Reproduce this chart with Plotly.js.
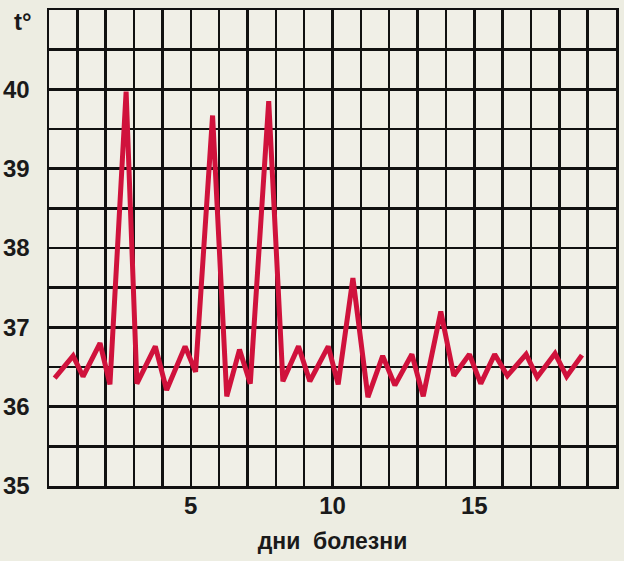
<!DOCTYPE html>
<html>
<head>
<meta charset="utf-8">
<script src="https://cdn.plot.ly/plotly-3.0.1.min.js"></script>
<style>
  html, body { margin: 0; padding: 0; background: #edede2; }
  #chart { width: 624px; height: 561px; }
</style>
</head>
<body>
<div id="chart"></div>
<script>
// Measurement times (days of illness, morning / evening)
const dayTimes = [0.2, 0.85, 1.2, 1.8, 2.15, 2.72, 3.1, 3.75, 4.15, 4.8,
  5.17, 5.77, 6.27, 6.72, 7.1, 7.75, 8.25, 8.8, 9.2, 9.85,
  10.2, 10.72, 11.25, 11.77, 12.2, 12.8, 13.2, 13.82, 14.28, 14.83,
  15.23, 15.72, 16.17, 16.83, 17.22, 17.85, 18.26, 18.8];
// Body temperature, °C
const temperatures = [36.36, 36.64, 36.38, 36.80, 36.28, 39.97, 36.29, 36.76, 36.21, 36.76,
  36.44, 39.67, 36.13, 36.72, 36.29, 39.85, 36.32, 36.76, 36.32, 36.76,
  36.28, 37.62, 36.12, 36.64, 36.27, 36.66, 36.13, 37.20, 36.39, 36.66,
  36.29, 36.66, 36.39, 36.66, 36.37, 36.67, 36.38, 36.65];

const xLabeled = [5, 10, 15];
const yLabeled = [35, 36, 37, 38, 39, 40];
const xTitle = 'дни\u00a0\u00a0болезни';
const yUnit = 't°';

const xRange = [0, 20];
const yRange = [35, 41];

const xTickVals = [], xTickText = [];
for (let v = xRange[0]; v <= xRange[1]; v += 1) {
  xTickVals.push(v);
  xTickText.push(xLabeled.includes(v) ? String(v) : '');
}
const yTickVals = [], yTickText = [];
for (let v = yRange[0]; v <= yRange[1] + 1e-9; v += 0.5) {
  yTickVals.push(v);
  yTickText.push(yLabeled.includes(v) ? String(v) : '');
}

const font = { family: 'Liberation Sans, Arial, sans-serif', size: 24, weight: 'bold', color: '#1a1a1a' };

const trace = {
  x: dayTimes,
  y: temperatures,
  type: 'scatter',
  mode: 'lines',
  line: { color: '#d0123c', width: 5 },
  hoverinfo: 'skip'
};

const axisCommon = {
  showgrid: true,
  gridcolor: '#111111',
  gridwidth: 2.5,
  zeroline: false,
  showline: true,
  linecolor: '#111111',
  linewidth: 2.5,
  mirror: true,
  ticks: '',
  tickfont: font,
  fixedrange: true
};

const layout = {
  width: 624,
  height: 561,
  paper_bgcolor: '#edede2',
  plot_bgcolor: '#f0efe7',
  margin: { l: 49, r: 8, t: 10, b: 75 },
  showlegend: false,
  xaxis: Object.assign({}, axisCommon, {
    range: xRange,
    tickmode: 'array',
    tickvals: xTickVals,
    ticktext: xTickText,
    ticklabelstandoff: -3,
    title: { text: xTitle, font: Object.assign({}, font, { size: 23 }), standoff: 15 }
  }),
  yaxis: Object.assign({}, axisCommon, {
    range: yRange,
    tickmode: 'array',
    tickvals: yTickVals,
    ticktext: yTickText,
    ticklabelstandoff: 12
  }),
  annotations: [{
    text: yUnit,
    xref: 'paper', yref: 'y',
    x: -0.026, y: 40.85,
    xanchor: 'right', yanchor: 'middle',
    showarrow: false,
    font: font
  }]
};

Plotly.newPlot('chart', [trace], layout, { displayModeBar: false, staticPlot: true });
</script>
</body>
</html>
